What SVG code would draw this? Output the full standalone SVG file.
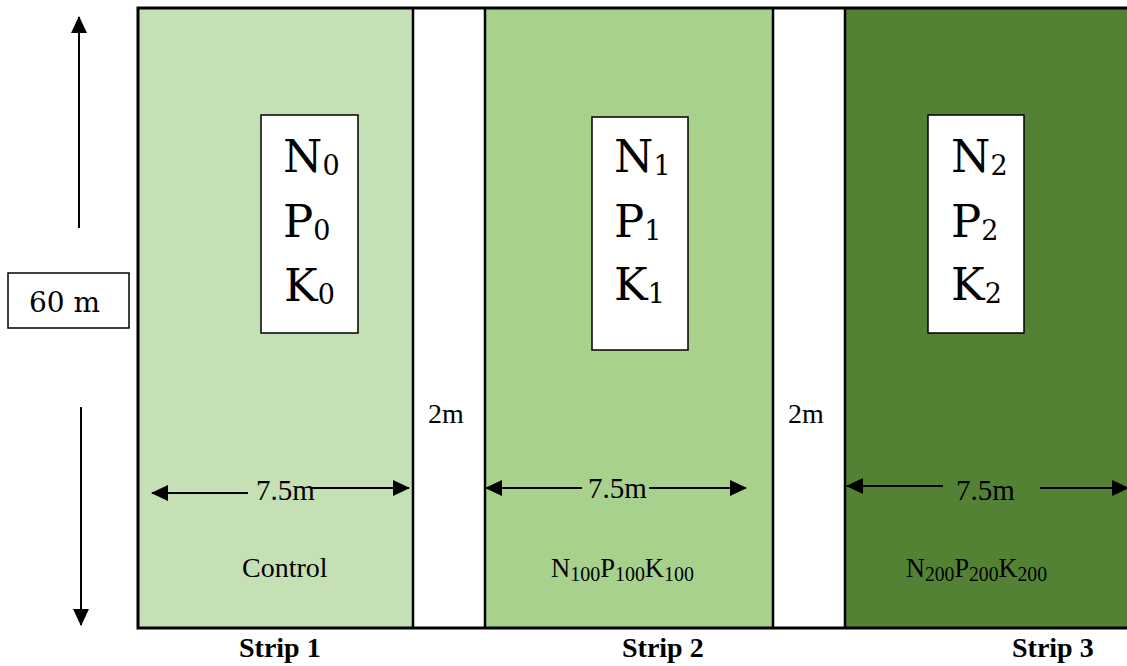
<svg xmlns="http://www.w3.org/2000/svg" width="1127" height="666" viewBox="0 0 1127 666">
<style>
.ser{font-family:"Liberation Serif","Times New Roman",serif;fill:#000}
.dv{font-family:"DejaVu Serif","Liberation Serif",serif;fill:#000}
.box{fill:#fff;stroke:#000;stroke-width:1.5}
.ln{stroke:#000;stroke-width:2;fill:none}
.div{stroke:#000;stroke-width:2.5}
</style>
<defs>
<marker id="ah" markerUnits="userSpaceOnUse" markerWidth="17" markerHeight="16" refX="16" refY="8" orient="auto">
<path d="M0,0 L17,8 L0,16 z" fill="#000"/>
</marker>
</defs>
<rect width="1127" height="666" fill="#fff"/>
<g id="strip1"><rect x="138" y="8" width="275" height="620" fill="#C5E0B4"/></g>
<g id="gap1"><rect x="413" y="8" width="72" height="620" fill="#fff"/></g>
<g id="strip2"><rect x="485" y="8" width="288" height="620" fill="#A9D18E"/></g>
<g id="gap2"><rect x="773" y="8" width="72" height="620" fill="#fff"/></g>
<g id="strip3"><rect x="845" y="8" width="290" height="620" fill="#548235"/></g>
<g id="outline">
<rect x="138" y="8" width="1000" height="620" fill="none" stroke="#000" stroke-width="3"/>
<line class="div" x1="413" y1="8" x2="413" y2="628"/>
<line class="div" x1="485" y1="8" x2="485" y2="628"/>
<line class="div" x1="773" y1="8" x2="773" y2="628"/>
<line class="div" x1="845" y1="8" x2="845" y2="628"/>
</g>
<g id="box1">
<rect class="box" x="261" y="115" width="97" height="218"/>
<text class="dv" font-size="45" x="283" y="172">N<tspan font-size="27" y="175">0</tspan></text>
<text class="dv" font-size="45" x="283" y="237">P<tspan font-size="27" y="240">0</tspan></text>
<text class="dv" font-size="45" x="284" y="301">K<tspan font-size="27" y="304">0</tspan></text>
</g>
<g id="box2">
<rect class="box" x="592" y="117" width="96" height="233"/>
<text class="dv" font-size="45" x="614" y="172">N<tspan font-size="27" y="175">1</tspan></text>
<text class="dv" font-size="45" x="614" y="237">P<tspan font-size="27" y="240">1</tspan></text>
<text class="dv" font-size="45" x="614" y="300">K<tspan font-size="27" y="303">1</tspan></text>
</g>
<g id="box3">
<rect class="box" x="928" y="115" width="96" height="218"/>
<text class="dv" font-size="45" x="951" y="172">N<tspan font-size="27" y="175">2</tspan></text>
<text class="dv" font-size="45" x="951" y="237">P<tspan font-size="27" y="240">2</tspan></text>
<text class="dv" font-size="45" x="951" y="300">K<tspan font-size="27" y="303">2</tspan></text>
</g>
<g id="label60">
<rect class="box" x="8" y="273" width="121" height="55"/>
<text class="dv" font-size="28" x="29" y="312">60 m</text>
</g>
<g id="connectors">
<line class="ln" x1="79" y1="228" x2="79" y2="17" stroke-width="1.5" marker-end="url(#ah)"/>
<line class="ln" x1="81" y1="407" x2="81" y2="625" stroke-width="1.5" marker-end="url(#ah)"/>
<line class="ln" x1="248" y1="493" x2="152" y2="493" marker-end="url(#ah)"/>
<line class="ln" x1="310" y1="488" x2="409" y2="488" marker-end="url(#ah)"/>
<line class="ln" x1="582" y1="488" x2="486" y2="488" marker-end="url(#ah)"/>
<line class="ln" x1="649" y1="488" x2="746" y2="488" marker-end="url(#ah)"/>
<line class="ln" x1="943" y1="486" x2="847" y2="486" marker-end="url(#ah)"/>
<line class="ln" x1="1040" y1="488" x2="1128" y2="488" marker-end="url(#ah)"/>
</g>
<g id="labels">
<text class="ser" font-size="29" x="256" y="500">7.5m</text>
<text class="ser" font-size="29" x="588" y="498">7.5m</text>
<text class="ser" font-size="29" x="956" y="500">7.5m</text>
<text class="ser" font-size="28" x="428" y="423">2m</text>
<text class="ser" font-size="28" x="788" y="423">2m</text>
<text class="ser" font-size="28" x="242" y="577">Control</text>
<text class="ser" font-size="28" x="551" y="577" textLength="143" lengthAdjust="spacingAndGlyphs">N<tspan font-size="21" y="581">100</tspan><tspan y="577">P</tspan><tspan font-size="21" y="581">100</tspan><tspan y="577">K</tspan><tspan font-size="21" y="581">100</tspan></text>
<text class="ser" font-size="28" x="906" y="577" textLength="141" lengthAdjust="spacingAndGlyphs">N<tspan font-size="21" y="581">200</tspan><tspan y="577">P</tspan><tspan font-size="21" y="581">200</tspan><tspan y="577">K</tspan><tspan font-size="21" y="581">200</tspan></text>
<text class="ser" font-size="28" font-weight="bold" x="239" y="657">Strip 1</text>
<text class="ser" font-size="28" font-weight="bold" x="622" y="657">Strip 2</text>
<text class="ser" font-size="28" font-weight="bold" x="1012" y="657">Strip 3</text>
</g>
</svg>
